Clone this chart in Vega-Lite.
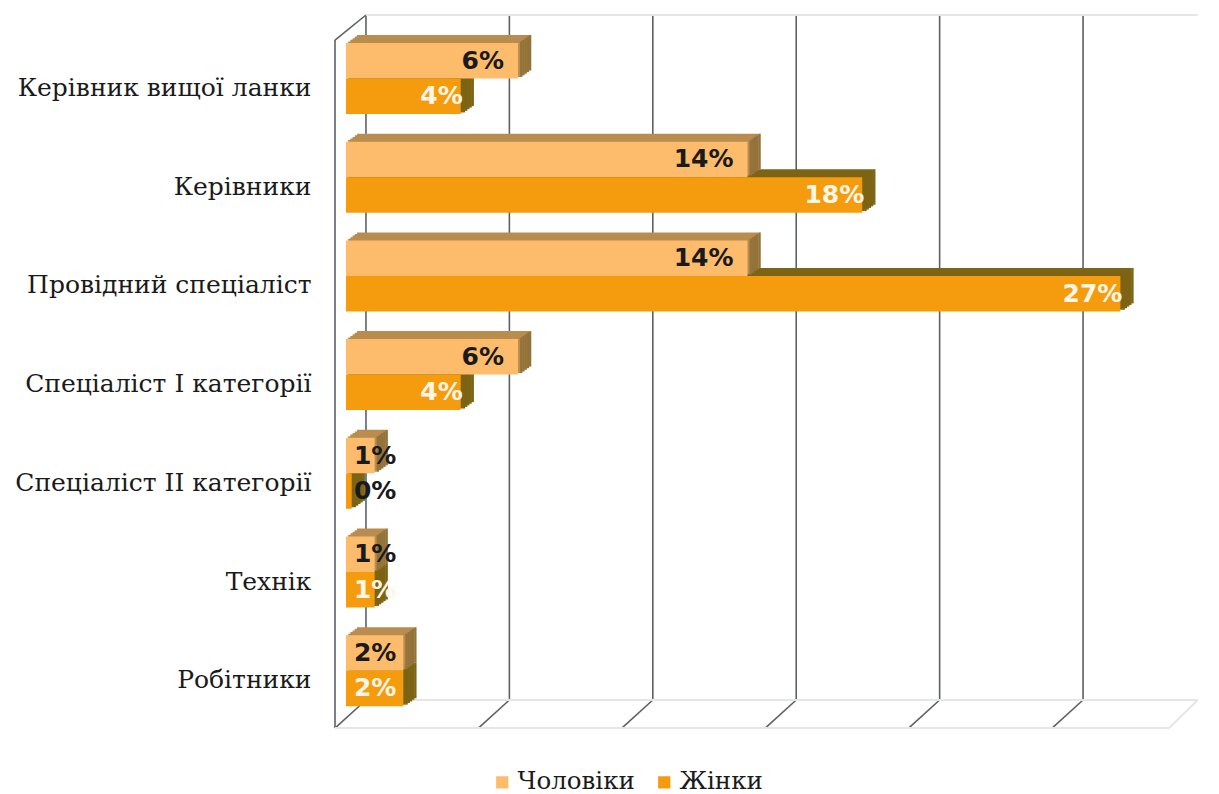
{"$schema":"https://vega.github.io/schema/vega-lite/v6.json","width":884,"height":685,"autosize":"none","padding":{"left":335,"top":15,"right":0,"bottom":94},"background":"white","config":{"view":{"stroke":null}},
"datasets":{"rows":[
{"role":"Керівник вищої ланки","s":"Чоловіки","v":0.06},{"role":"Керівник вищої ланки","s":"Жінки","v":0.04},
{"role":"Керівники","s":"Чоловіки","v":0.14},{"role":"Керівники","s":"Жінки","v":0.18},
{"role":"Провідний спеціаліст","s":"Чоловіки","v":0.14},{"role":"Провідний спеціаліст","s":"Жінки","v":0.27},
{"role":"Спеціаліст І категорії","s":"Чоловіки","v":0.06},{"role":"Спеціаліст І категорії","s":"Жінки","v":0.04},
{"role":"Спеціаліст ІІ категорії","s":"Чоловіки","v":0.01},{"role":"Спеціаліст ІІ категорії","s":"Жінки","v":0.002},
{"role":"Технік","s":"Чоловіки","v":0.01},{"role":"Технік","s":"Жінки","v":0.01},
{"role":"Робітники","s":"Чоловіки","v":0.02},{"role":"Робітники","s":"Жінки","v":0.02}],
"lines":[
{"x":0,"x2":0,"y":0,"y2":1,"k":"d"},{"x":0.05,"x2":0.05,"y":0,"y2":1,"k":"d"},{"x":0.1,"x2":0.1,"y":0,"y2":1,"k":"d"},{"x":0.15,"x2":0.15,"y":0,"y2":1,"k":"d"},{"x":0.2,"x2":0.2,"y":0,"y2":1,"k":"d"},{"x":0.25,"x2":0.25,"y":0,"y2":1,"k":"d"},
{"x":0,"x2":-0.0108,"y":0,"y2":-0.041,"k":"d"},{"x":0.05,"x2":0.0392,"y":0,"y2":-0.041,"k":"d"},{"x":0.1,"x2":0.0892,"y":0,"y2":-0.041,"k":"d"},{"x":0.15,"x2":0.1392,"y":0,"y2":-0.041,"k":"d"},{"x":0.2,"x2":0.1892,"y":0,"y2":-0.041,"k":"d"},{"x":0.25,"x2":0.2392,"y":0,"y2":-0.041,"k":"d"},
{"x":-0.0108,"x2":-0.0108,"y":-0.041,"y2":0.9635,"k":"d"},{"x":-0.0108,"x2":0,"y":0.9635,"y2":1,"k":"d"},
{"x":0,"x2":0.29,"y":1,"y2":1,"k":"l"},{"x":0,"x2":0.29,"y":0,"y2":0,"k":"l"},{"x":-0.0108,"x2":0.28,"y":-0.041,"y2":-0.041,"k":"l"},{"x":0.28,"x2":0.29,"y":-0.041,"y2":0,"k":"l"}]},
"resolve":{"scale":{"y":"independent"}},
"layer":[
{"data":{"name":"lines"},"mark":{"type":"rule","clip":false},"encoding":{
"x":{"field":"x","type":"quantitative","scale":{"domain":[-0.0108,0.2974],"nice":false,"zero":false},"axis":null},"x2":{"field":"x2"},
"y":{"field":"y","type":"quantitative","scale":{"domain":[0,1],"nice":false,"zero":false},"axis":null},"y2":{"field":"y2"},
"color":{"condition":{"test":"datum.k==='l'","value":"#e6e6e6"},"value":"#5c6168"},
"strokeWidth":{"condition":{"test":"datum.k==='l'","value":2},"value":1.6}}},
{"data":{"name":"rows"},
"encoding":{
"y":{"field":"role","type":"nominal","sort":null,"title":null,"scale":{"paddingInner":0.28,"paddingOuter":0.11,"align":0.92},"axis":{"orient":"left","domain":false,"ticks":false,"labelOffset":17.5,"labelPadding":24,"labelFont":"DejaVu Serif","labelFontSize":25,"labelColor":"#1a1a1a","labelLimit":330}},
"x":{"field":"v","type":"quantitative","stack":null}},
"layer":[
{"transform":[{"filter":"datum.s==='Жінки'"}],
"encoding":{"x2":{"datum":0}},
"layer":[
{"mark":{"type":"bar","height":35.5,"xOffset":-9,"x2Offset":-9,"yOffset":17.75,"color":"#7d6414"}},
{"mark":{"type":"tick","xOffset":-8,"yOffset":17.75,"size":35.5,"thickness":2.4,"color":"#7d6414","opacity":1},"encoding":{"x2":null}},
{"mark":{"type":"bar","height":35.5,"xOffset":-11.2,"x2Offset":-11.2,"yOffset":19.35,"color":"#7d6414"}},
{"mark":{"type":"tick","xOffset":-10.2,"yOffset":19.35,"size":35.5,"thickness":2.4,"color":"#7d6414","opacity":1},"encoding":{"x2":null}},
{"mark":{"type":"bar","height":35.5,"xOffset":-13.4,"x2Offset":-13.4,"yOffset":20.95,"color":"#7d6414"}},
{"mark":{"type":"tick","xOffset":-12.4,"yOffset":20.95,"size":35.5,"thickness":2.4,"color":"#7d6414","opacity":1},"encoding":{"x2":null}},
{"mark":{"type":"bar","height":35.5,"xOffset":-15.6,"x2Offset":-15.6,"yOffset":22.55,"color":"#7d6414"}},
{"mark":{"type":"tick","xOffset":-14.6,"yOffset":22.55,"size":35.5,"thickness":2.4,"color":"#7d6414","opacity":1},"encoding":{"x2":null}},
{"mark":{"type":"bar","height":35.5,"xOffset":-17.8,"x2Offset":-17.8,"yOffset":24.15,"color":"#7d6414"}},
{"mark":{"type":"tick","xOffset":-16.8,"yOffset":24.15,"size":35.5,"thickness":2.4,"color":"#7d6414","opacity":1},"encoding":{"x2":null}}
]},
{"transform":[{"filter":"datum.s==='Чоловіки'"}],
"encoding":{"x2":{"datum":0}},
"layer":[
{"mark":{"type":"bar","height":35.5,"xOffset":-9,"x2Offset":-9,"yOffset":-17.75,"color":"#b98c4f"}},
{"mark":{"type":"tick","xOffset":-8,"yOffset":-17.75,"size":35.5,"thickness":2.4,"color":"#93733a","opacity":1},"encoding":{"x2":null}},
{"mark":{"type":"bar","height":35.5,"xOffset":-11.2,"x2Offset":-11.2,"yOffset":-16.15,"color":"#b98c4f"}},
{"mark":{"type":"tick","xOffset":-10.2,"yOffset":-16.15,"size":35.5,"thickness":2.4,"color":"#93733a","opacity":1},"encoding":{"x2":null}},
{"mark":{"type":"bar","height":35.5,"xOffset":-13.4,"x2Offset":-13.4,"yOffset":-14.55,"color":"#b98c4f"}},
{"mark":{"type":"tick","xOffset":-12.4,"yOffset":-14.55,"size":35.5,"thickness":2.4,"color":"#93733a","opacity":1},"encoding":{"x2":null}},
{"mark":{"type":"bar","height":35.5,"xOffset":-15.6,"x2Offset":-15.6,"yOffset":-12.95,"color":"#b98c4f"}},
{"mark":{"type":"tick","xOffset":-14.6,"yOffset":-12.95,"size":35.5,"thickness":2.4,"color":"#93733a","opacity":1},"encoding":{"x2":null}},
{"mark":{"type":"bar","height":35.5,"xOffset":-17.8,"x2Offset":-17.8,"yOffset":-11.35,"color":"#b98c4f"}},
{"mark":{"type":"tick","xOffset":-16.8,"yOffset":-11.35,"size":35.5,"thickness":2.4,"color":"#93733a","opacity":1},"encoding":{"x2":null}}
]},
{"transform":[{"filter":"datum.s==='Чоловіки'"}],"mark":{"type":"bar","height":35.5,"xOffset":-20,"x2Offset":-20,"yOffset":-9.75},"encoding":{"x2":{"datum":0},
"color":{"field":"s","type":"nominal","sort":["Чоловіки","Жінки"],"scale":{"domain":["Чоловіки","Жінки"],"range":["#fdbb6c","#f59c0e"]},"legend":{"title":null,"orient":"none","direction":"horizontal","legendX":155,"legendY":755,"symbolType":"square","symbolSize":150,"symbolStrokeWidth":0,"symbolOpacity":1,"labelFont":"DejaVu Serif","labelFontSize":24.5,"labelColor":"#1a1a1a","columnPadding":17,"labelOffset":3}}}},
{"transform":[{"filter":"datum.s==='Жінки'"}],"mark":{"type":"bar","height":35.5,"xOffset":-20,"x2Offset":-20,"yOffset":25.75},"encoding":{"x2":{"datum":0},
"color":{"field":"s","type":"nominal"}}},
{"transform":[{"filter":"datum.v>=0.03 && datum.s==='Чоловіки'"}],"mark":{"type":"text","align":"right","baseline":"middle","font":"DejaVu Sans","fontWeight":"bold","fontSize":25,"xOffset":-34,"yOffset":-9.75,"color":"#1a1a1a"},"encoding":{
"text":{"field":"v","type":"quantitative","format":".0%"}}},
{"transform":[{"filter":"datum.v>=0.03 && datum.s==='Жінки'"}],"mark":{"type":"text","align":"right","baseline":"middle","font":"DejaVu Sans","fontWeight":"bold","fontSize":25,"xOffset":-18,"yOffset":25.75,"color":"#fff6e6"},"encoding":{
"text":{"field":"v","type":"quantitative","format":".0%"}}},
{"transform":[{"filter":"datum.v<0.03 && datum.s==='Чоловіки'"}],"mark":{"type":"text","align":"left","baseline":"middle","font":"DejaVu Sans","fontWeight":"bold","fontSize":25,"xOffset":-12,"yOffset":-9.75,"color":"#1a1a1a"},"encoding":{
"x":{"datum":0,"type":"quantitative"},"text":{"field":"v","type":"quantitative","format":".0%"}}},
{"transform":[{"filter":"datum.v<0.03 && datum.s==='Жінки'"}],"mark":{"type":"text","align":"left","baseline":"middle","font":"DejaVu Sans","fontWeight":"bold","fontSize":25,"xOffset":-12,"yOffset":25.75},"encoding":{
"x":{"datum":0,"type":"quantitative"},"text":{"field":"v","type":"quantitative","format":".0%"},"color":{"condition":{"test":"datum.v>0.005","value":"#fff6e6"},"value":"#1a1a1a"}}}
]}
]}
